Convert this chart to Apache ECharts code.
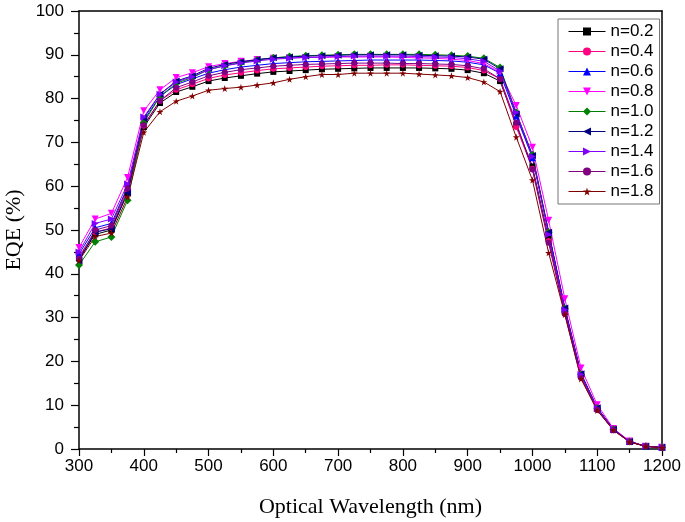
<!DOCTYPE html>
<html><head><meta charset="utf-8">
<script src="https://cdn.jsdelivr.net/npm/echarts@6/dist/echarts.min.js"></script>
<style>html,body{margin:0;padding:0;background:#fff}#c{width:685px;height:522px}</style>
</head><body><div id="c"></div>
<script>
const wavelengths = [300,325,350,375,400,425,450,475,500,525,550,575,600,625,650,675,700,725,750,775,800,825,850,875,900,925,950,975,1000,1025,1050,1075,1100,1125,1150,1175,1200];
const seriesNames = ['n=0.2','n=0.4','n=0.6','n=0.8','n=1.0','n=1.2','n=1.4','n=1.6','n=1.8'];
const n02 = [43.5,49.0,50.0,58.5,73.5,79.0,81.5,82.7,84.0,84.7,85.2,85.7,86.1,86.3,86.5,86.7,86.8,86.9,87.0,87.0,87.0,87.0,86.9,86.8,86.5,85.8,84.0,74.0,64.5,48.0,31.3,16.7,9.2,4.4,1.7,0.6,0.4];
const n04 = [44.0,49.5,50.5,59.0,73.8,79.5,82.0,83.3,84.6,85.4,85.9,86.4,86.8,87.0,87.2,87.4,87.5,87.6,87.6,87.7,87.7,87.6,87.5,87.4,87.1,86.4,84.5,73.5,64.0,47.5,31.0,16.5,9.0,4.3,1.6,0.6,0.3];
const n06 = [44.5,50.5,51.5,59.8,75.0,80.5,83.2,84.5,85.8,86.6,87.2,87.6,88.0,88.2,88.4,88.5,88.6,88.7,88.8,88.8,88.8,88.8,88.7,88.6,88.3,87.7,85.8,76.0,66.5,49.5,32.2,17.2,9.4,4.5,1.7,0.6,0.4];
const n08 = [46.0,52.5,53.8,62.0,77.2,82.0,84.8,85.9,87.3,88.0,88.5,88.9,89.2,89.3,89.4,89.4,89.5,89.5,89.5,89.5,89.4,89.3,89.2,89.0,88.7,88.0,86.0,78.4,68.9,52.2,34.3,18.5,10.1,4.7,1.8,0.6,0.4];
const n10 = [42.0,47.3,48.4,56.8,74.5,80.5,83.5,84.8,86.6,87.5,88.2,88.8,89.3,89.6,89.8,89.9,90.0,90.1,90.1,90.1,90.1,90.1,90.0,89.9,89.7,89.2,87.1,76.8,67.2,49.5,32.0,17.0,9.3,4.5,1.7,0.6,0.4];
const n12 = [43.0,49.5,50.3,58.5,75.5,81.0,84.0,85.2,86.9,87.8,88.4,88.9,89.3,89.5,89.7,89.8,89.9,90.0,90.0,90.0,90.0,89.9,89.8,89.7,89.5,89.0,86.8,76.5,67.0,49.5,32.2,17.2,9.4,4.5,1.7,0.6,0.4];
const n14 = [45.0,51.5,52.5,60.5,75.8,81.0,83.8,85.0,86.6,87.5,88.1,88.6,89.0,89.2,89.4,89.5,89.6,89.7,89.7,89.7,89.7,89.6,89.5,89.4,89.1,88.5,86.3,76.8,66.8,49.0,31.8,17.0,9.3,4.5,1.7,0.6,0.4];
const n16 = [43.5,50.0,51.0,59.5,74.0,79.5,82.5,83.8,85.2,86.0,86.6,87.0,87.4,87.6,87.8,87.9,88.0,88.1,88.1,88.1,88.0,88.0,87.9,87.8,87.5,86.8,84.5,74.5,63.8,47.1,30.8,16.2,8.9,4.3,1.6,0.6,0.3];
const n18 = [43.0,48.5,49.3,57.5,72.3,77.0,79.4,80.6,81.9,82.3,82.6,83.1,83.6,84.4,85.0,85.5,85.5,85.8,85.8,85.8,85.8,85.6,85.4,85.2,84.8,83.8,81.6,71.2,61.4,44.8,30.7,16.0,8.8,4.3,1.6,0.6,0.3];
const xTicks = [300,400,500,600,700,800,900,1000,1100,1200];
const yTicks = [0,10,20,30,40,50,60,70,80,90,100];

const allData = [n02,n04,n06,n08,n10,n12,n14,n16,n18];
const colors = ['#000000','#FF0080','#0000FF','#FF00FF','#008000','#000080','#8000FF','#800080','#800000'];
const STAR = 'path://M50,0 L61,35 L98,35 L68,57 L79,91 L50,70 L21,91 L32,57 L2,35 L39,35 Z';
const symbols = [
  {s:'rect',r:0,z:6},{s:'circle',r:0,z:6},{s:'triangle',r:0,z:7},{s:'triangle',r:180,z:7},
  {s:'diamond',r:0,z:8},{s:'triangle',r:90,z:7},{s:'triangle',r:-90,z:7},{s:'circle',r:0,z:6},{s:STAR,r:0,z:7}
];
const series = seriesNames.map((name,i)=>({
  name, type:'line', xAxisIndex:0, yAxisIndex:0,
  data: wavelengths.map((w,j)=>[w, allData[i][j]]),
  symbol: symbols[i].s, symbolRotate: symbols[i].r, symbolSize: symbols[i].z,
  lineStyle:{color:colors[i], width:1},
  itemStyle:{color:colors[i]},
  animation:false
}));

const chart = echarts.init(document.getElementById('c'));
const axisFont = {fontFamily:'Liberation Sans', fontSize:17, color:'#000'};
chart.setOption({
  backgroundColor:'#fff',
  animation:false,
  grid:{left:79, right:23, top:11, bottom:73, containLabel:false, outerBoundsMode:'none'},
  legend:{
    data: seriesNames, orient:'vertical', left:558, top:19,
    padding:[4,6,4,10], itemGap:3, itemWidth:37, itemHeight:10,
    lineStyle:{width:1},
    borderColor:'#777', borderWidth:1, backgroundColor:'#fff',
    textStyle:{fontFamily:'Liberation Sans', fontSize:17, color:'#000'}
  },
  xAxis:[{
    type:'value', min:300, max:1200, interval:100,
    name:'Optical Wavelength (nm)', nameLocation:'middle', nameGap:47,
    nameTextStyle:{fontFamily:'Liberation Serif', fontSize:22, color:'#000'},
    axisLine:{lineStyle:{color:'#000', width:1.5}},
    axisTick:{inside:false, length:7, lineStyle:{color:'#000', width:1.2}},
    minorTick:{show:true, splitNumber:2, length:4, lineStyle:{color:'#000', width:1.2}},
    axisLabel:Object.assign({margin:9, formatter:v=>String(v)}, axisFont),
    splitLine:{show:false}
  },{
    type:'value', position:'top', min:300, max:1200, interval:100,
    axisLine:{onZero:false, lineStyle:{color:'#000', width:1.5}},
    axisTick:{show:false}, axisLabel:{show:false}, splitLine:{show:false}
  }],
  yAxis:[{
    type:'value', min:0, max:100, interval:10,
    name:'EQE (%)', nameLocation:'middle', nameGap:51,
    nameTextStyle:{fontFamily:'Liberation Serif', fontSize:22, color:'#000'},
    axisLine:{show:true, lineStyle:{color:'#000', width:1.5}},
    axisTick:{show:true, inside:false, length:8, lineStyle:{color:'#000', width:1.2}},
    minorTick:{show:true, splitNumber:2, length:5, lineStyle:{color:'#000', width:1.2}},
    axisLabel:Object.assign({margin:15, formatter:v=>String(v)}, axisFont),
    splitLine:{show:false}
  },{
    type:'value', position:'right', min:0, max:100, interval:10,
    axisLine:{show:true, onZero:false, lineStyle:{color:'#000', width:1.5}},
    axisTick:{show:false}, axisLabel:{show:false}, splitLine:{show:false}
  }],
  series
});
</script></body></html>
